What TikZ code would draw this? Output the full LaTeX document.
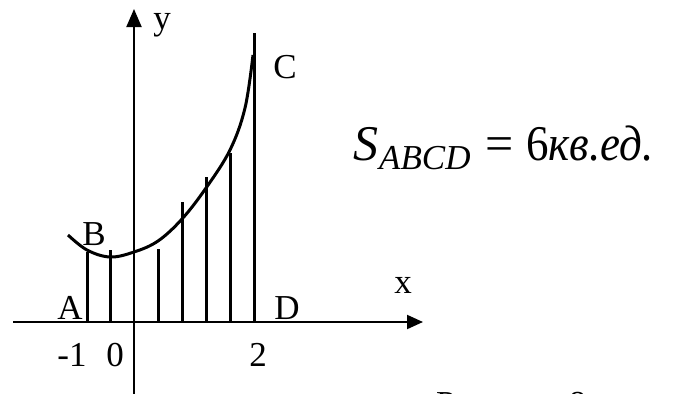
\documentclass[tikz,border=0pt]{standalone}
\usepackage{fontspec}
\setmainfont{Liberation Serif}
\usetikzlibrary{arrows.meta}
\tikzset{
  axis/.style={line width=2pt},
  hatch/.style={line width=3pt},
  curveline/.style={line width=3pt},
  lbl/.style={inner sep=0pt, anchor=base, font=\fontsize{35}{40}\selectfont},
  big/.style={inner sep=0pt, font=\fontsize{50}{60}\selectfont},
}
\begin{document}
\begin{tikzpicture}[x=1pt,y=-1pt]
\useasboundingbox (0,0) rectangle (673,394);
% coordinates
\coordinate (xs) at (13,322);
\coordinate (xe) at (423,322);
\coordinate (ys) at (134,400);
\coordinate (ye) at (134,9);
% hatch lines
\foreach \x/\t [count=\i] in {87/252,110/250,158/249,182/202,206/177,230/153,254/33}{
  \coordinate (hb\i) at (\x,322);
  \coordinate (ht\i) at (\x,\t);
  \draw[hatch] (hb\i) -- (ht\i);
}
% curve
\draw[curveline] plot[smooth, tension=0.6] coordinates {(68,235) (87,250) (110,257) (134,252) (158,241) (182,219) (206,188) (230,150) (245,108) (253,55)};
% axes
\draw[axis, -{Triangle[length=16pt,width=14pt]}] (xs) -- (xe);
\draw[axis, -{Triangle[length=18pt,width=15pt]}] (ys) -- (ye);
% labels
\node[lbl] (A) at (70,319) {A};
\node[lbl] (B) at (94,245) {B};
\node[lbl] (C) at (285,78) {C};
\node[lbl] (D) at (287,319) {D};
\node[lbl] (xl) at (403,293) {x};
\node[lbl] (yl) at (162,29) {y};
\node[lbl] (m1) at (72,366) {-1};
\node[lbl] (z0) at (115,366) {0};
\node[lbl] (t2) at (258,366) {2};
% formula
\node[big, anchor=base west] (S) at (353,160) {\textit{S}\hspace{1pt}\raisebox{-9pt}{\fontsize{35}{40}\selectfont\textit{ABCD}}};
\node[big, anchor=base] (eq) at (500,160) {=};
\node[big, anchor=base west] (val) at (526,160) {\scalebox{0.9}[1]{6\textit{кв.ед.}}};
% caption (cut off)
\node[inner sep=0pt, anchor=north west] (cap) at (436,392) {\fontsize{35}{40}\selectfont Рисунок 8};
\end{tikzpicture}
\end{document}
